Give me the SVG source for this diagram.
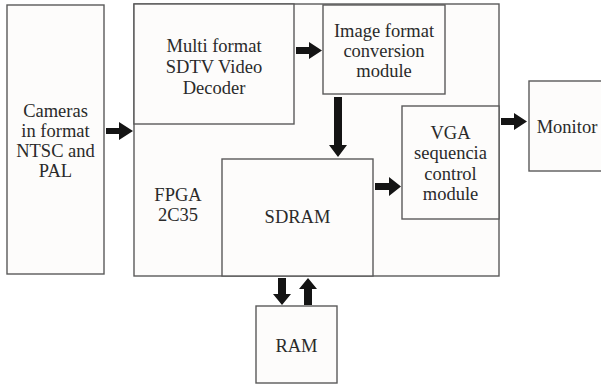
<svg xmlns="http://www.w3.org/2000/svg" width="601" height="386" viewBox="0 0 601 386">
<style>
.box{fill:#fdfcfb;stroke:#5a5a5a;stroke-width:1.4}
.arr{fill:#141414}
</style>
<rect x="0" y="0" width="601" height="386" fill="#ffffff"/>
<g font-family="Liberation Serif, Times New Roman, DejaVu Serif, serif" font-size="18.5" fill="#2a2a2a" text-anchor="middle">
<g id="cameras">
<rect class="box" x="7" y="5" width="97" height="269"/>
<text x="55.5" y="117">Cameras</text>
<text x="55.5" y="137">in format</text>
<text x="55.5" y="157">NTSC and</text>
<text x="55.5" y="177">PAL</text>
</g>
<g id="fpga">
<rect class="box" x="134" y="4" width="365" height="272"/>
<text x="178" y="201">FPGA</text>
<text x="178" y="221">2C35</text>
</g>
<g id="decoder">
<rect class="box" x="134" y="4" width="160" height="120"/>
<text x="214" y="52">Multi format</text>
<text x="214" y="73">SDTV Video</text>
<text x="214" y="94">Decoder</text>
</g>
<g id="imgconv">
<rect class="box" x="323" y="5" width="122" height="89"/>
<text x="384" y="37">Image format</text>
<text x="384" y="57">conversion</text>
<text x="384" y="77">module</text>
</g>
<g id="vga">
<rect class="box" x="402" y="106" width="97" height="113"/>
<text x="450.5" y="139">VGA</text>
<text x="450.5" y="159">sequencia</text>
<text x="450.5" y="180">control</text>
<text x="450.5" y="200">module</text>
</g>
<g id="sdram">
<rect class="box" x="222" y="159" width="151" height="117"/>
<text x="297.5" y="223">SDRAM</text>
</g>
<g id="monitor">
<rect class="box" x="529" y="81" width="76" height="90"/>
<text x="567" y="133">Monitor</text>
</g>
<g id="ram">
<rect class="box" x="256" y="306" width="81" height="77"/>
<text x="296.5" y="352">RAM</text>
</g>
</g>
<g id="connectors">
<path class="arr" d="M106,128 H119 V122 L133,131 L119,140 V134 H106 Z"/>
<path class="arr" d="M296,47 H309 V42 L322,50.5 L309,59 V54 H296 Z"/>
<path class="arr" d="M334,97 H342 V145 H347 L338,157 L329,145 H334 Z"/>
<path class="arr" d="M375,183 H389 V177 L401,186.5 L389,196 V190 H375 Z"/>
<path class="arr" d="M501,118 H514 V113 L527,121.5 L514,130 V125 H501 Z"/>
<path class="arr" d="M278,278 H286 V294 H291 L282,305 L273,294 H278 Z"/>
<path class="arr" d="M304,305 H312 V289 H317 L308,278 L299,289 H304 Z"/>
</g>
</svg>
